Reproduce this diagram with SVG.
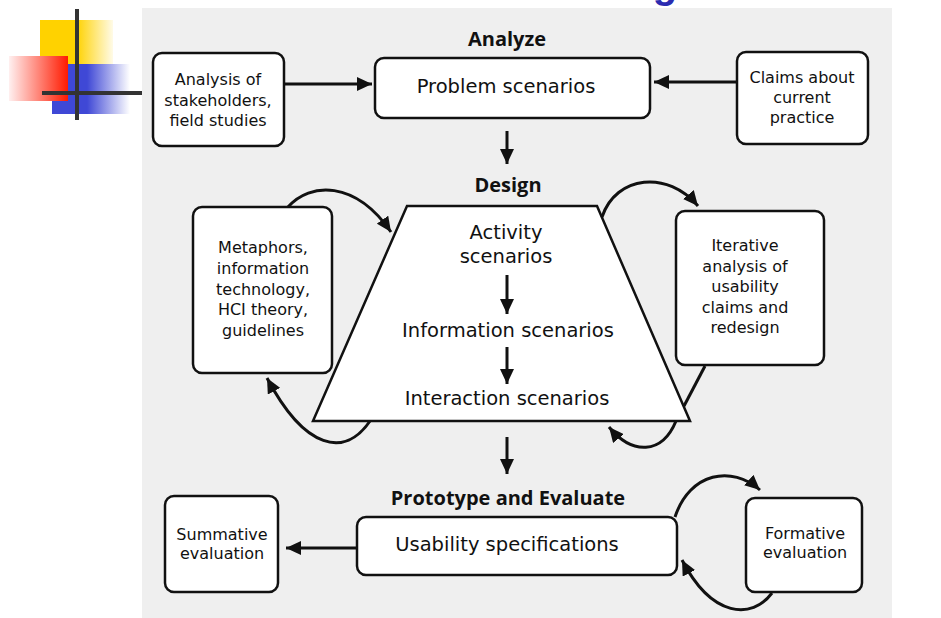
<svg xmlns="http://www.w3.org/2000/svg" width="941" height="618" viewBox="0 0 941 618">
<defs>
<linearGradient id="gY" x1="0" y1="0" x2="1" y2="0"><stop offset="0" stop-color="#ffd200"/><stop offset="0.5" stop-color="#ffd200"/><stop offset="1" stop-color="#fffbe8"/></linearGradient>
<linearGradient id="gR" x1="0" y1="0" x2="1" y2="0"><stop offset="0" stop-color="#fff0f0"/><stop offset="1" stop-color="#ff1a00"/></linearGradient>
<linearGradient id="gB" x1="0" y1="0" x2="1" y2="0"><stop offset="0" stop-color="#3f48d6"/><stop offset="0.45" stop-color="#3f48d6"/><stop offset="1" stop-color="#ffffff"/></linearGradient>
<marker id="ah" markerUnits="userSpaceOnUse" markerWidth="16" markerHeight="14" refX="15" refY="7" orient="auto"><path d="M0,0 L15,7 L0,14 Z" fill="#111"/></marker>
</defs>
<style>
.box{fill:#ffffff;stroke:#111;stroke-width:2.5}
.t{font-family:"DejaVu Sans","Open Sans",sans-serif;font-size:16px;fill:#111;text-anchor:middle}
.s{font-family:"DejaVu Sans","Open Sans",sans-serif;font-size:19.5px;fill:#111;text-anchor:middle}
.h{font-family:"Open Sans","Noto Sans",sans-serif;font-size:20px;font-weight:bold;fill:#111;text-anchor:middle}
.c{fill:none;stroke:#111;stroke-width:3;marker-end:url(#ah)}
.cl{fill:none;stroke:#111;stroke-width:3}
</style>
<rect x="0" y="0" width="941" height="618" fill="#ffffff"/>
<rect x="142" y="8" width="750" height="610" fill="#efefef"/>
<text x="665" y="-2" font-family="Liberation Sans,sans-serif" font-size="40" font-weight="bold" fill="#2b2bb0" text-anchor="middle">g</text>
<g id="logo">
<rect x="40" y="20" width="73" height="60" fill="url(#gY)"/>
<rect x="52" y="64" width="78" height="50" fill="url(#gB)"/>
<rect x="9" y="56" width="59" height="45" fill="url(#gR)"/>
<line x1="77" y1="9" x2="77" y2="120" stroke="#333" stroke-width="4"/>
<line x1="42" y1="93" x2="142" y2="93" stroke="#333" stroke-width="4"/>
</g>
<g id="labels">
<text class="h" x="507" y="46">Analyze</text>
<text class="h" x="508" y="192">Design</text>
<text class="h" x="508" y="505">Prototype and Evaluate</text>
</g>
<g id="stakeholders">
<rect class="box" x="153" y="53" width="131" height="93" rx="9"/>
<text class="t" x="218" y="85">Analysis of<tspan x="218" dy="21">stakeholders,</tspan><tspan x="218" dy="20">field studies</tspan></text>
</g>
<g id="problem">
<rect class="box" x="375" y="58" width="275" height="60" rx="9"/>
<text class="s" x="506" y="93">Problem scenarios</text>
</g>
<g id="claims">
<rect class="box" x="737" y="52" width="131" height="92" rx="9"/>
<text class="t" x="802" y="83">Claims about<tspan x="802" dy="20">current</tspan><tspan x="802" dy="20">practice</tspan></text>
</g>
<g id="metaphors">
<rect class="box" x="193" y="207" width="139" height="166" rx="9"/>
<text class="t" x="263" y="253">Metaphors,<tspan x="263" dy="21">information</tspan><tspan x="263" dy="20.5">technology,</tspan><tspan x="263" dy="20.5">HCI theory,</tspan><tspan x="263" dy="20.5">guidelines</tspan></text>
</g>
<g id="design">
<path class="box" d="M407,206 L597,206 L690,421 L313,421 Z"/>
<text class="s" x="506" y="238.5">Activity<tspan x="506" dy="24.5">scenarios</tspan></text>
<text class="s" x="508" y="337">Information scenarios</text>
<text class="s" x="507" y="405">Interaction scenarios</text>
</g>
<g id="iterative">
<rect class="box" x="676" y="211" width="148" height="154" rx="9"/>
<text class="t" x="745" y="251">Iterative<tspan x="745" dy="20.5">analysis of</tspan><tspan x="745" dy="20.5">usability</tspan><tspan x="745" dy="20.5">claims and</tspan><tspan x="745" dy="20.5">redesign</tspan></text>
</g>
<g id="usability">
<rect class="box" x="357" y="517" width="320" height="58" rx="9"/>
<text class="s" x="507" y="550.5">Usability specifications</text>
</g>
<g id="summative">
<rect class="box" x="165" y="496" width="113" height="96" rx="9"/>
<text class="t" x="222" y="540">Summative<tspan x="222" dy="19">evaluation</tspan></text>
</g>
<g id="formative">
<rect class="box" x="746" y="498" width="116" height="94" rx="9"/>
<text class="t" x="805" y="539">Formative<tspan x="805" dy="19">evaluation</tspan></text>
</g>
<g id="connectors">
<line class="c" x1="284" y1="84" x2="372" y2="84"/>
<line class="c" x1="737" y1="82" x2="654" y2="82"/>
<line class="c" x1="507" y1="131" x2="507" y2="164"/>
<line class="c" x1="507" y1="275" x2="507" y2="314"/>
<line class="c" x1="507" y1="347" x2="507" y2="384"/>
<line class="c" x1="507" y1="437" x2="507" y2="474"/>
<line class="c" x1="357" y1="548" x2="286" y2="548"/>
<path class="c" d="M288,207 C310,182 355,180 391,232"/>
<path class="c" d="M370,421 C345,458 305,450 267,378"/>
<path class="c" d="M602,217 C616,175 668,170 698,206"/>
<path class="cl" d="M705,366 L684,406"/>
<path class="c" d="M676,421 C662,455 632,455 609,427"/>
<path class="c" d="M675,517 C690,472 732,465 760,490"/>
<path class="c" d="M772,593 C752,620 712,618 682,560"/>
</g>
</svg>
